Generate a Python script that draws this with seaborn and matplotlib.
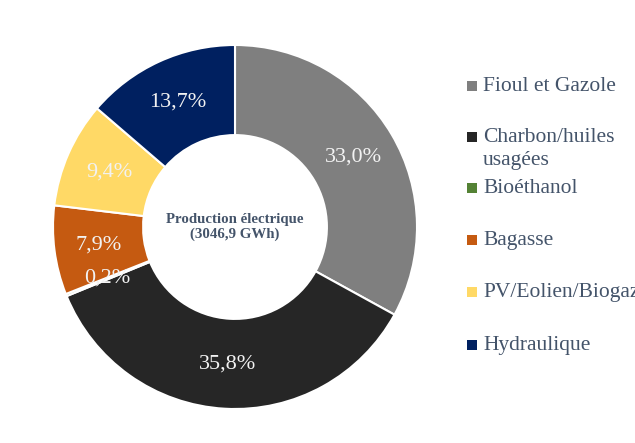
import matplotlib

matplotlib.use('Agg')
import matplotlib.pyplot as plt
import numpy as np
import seaborn as sns
from matplotlib.patches import Rectangle

# Production électrique par source (%)
sources = ['Fioul et Gazole', 'Charbon/huiles\nusagées', 'Bioéthanol', 'Bagasse',
           'PV/Eolien/Biogaz', 'Hydraulique']
shares = [33.0, 35.8, 0.2, 7.9, 9.4, 13.7]
colors = ['#7F7F7F', '#262626', '#548235', '#C55A11', '#FFD966', '#002060']
center_title = 'Production électrique\n(3046,9 GWh)'

sns.set_theme(style='white')
plt.rcParams['font.family'] = ['Liberation Serif', 'DejaVu Serif']
text_color = '#44546A'

fig = plt.figure(figsize=(6.35, 4.43), dpi=100)
W, H = 635, 443
cx, cy, r = 235, 443 - 227, 182
ax = fig.add_axes([(cx - r) / W, (cy - r) / H, 2 * r / W, 2 * r / H])

wedges, _ = ax.pie(
    shares,
    colors=colors,
    startangle=90,
    counterclock=False,
    radius=1.0,
    wedgeprops=dict(width=0.495, edgecolor='white', linewidth=1.5),
)
ax.set_xlim(-1, 1)
ax.set_ylim(-1, 1)

# percentage labels in the middle of the ring
for w, val in zip(wedges, shares):
    ang = np.deg2rad((w.theta1 + w.theta2) / 2)
    ax.text(0.755 * np.cos(ang), 0.755 * np.sin(ang), f'{val:.1f}%'.replace('.', ','),
            ha='center', va='center', fontsize=16, color='#F2F2F2')

ax.text(0, 0.0, center_title, ha='center', va='center', fontsize=10.7,
        fontweight='bold', color=text_color, linespacing=1.1)

# legend, Excel-like spacing
legend_y = [86, 137, 188, 240, 292, 345]
for lab, col, y in zip(sources, colors, legend_y):
    fig.patches.append(Rectangle((467 / W, (443 - y - 5) / H), 10 / W, 10 / H,
                                 facecolor=col, edgecolor='none',
                                 transform=fig.transFigure, figure=fig))
    fig.text(483 / W, (443 - y + 9) / H, lab, ha='left', va='top', fontsize=15.5,
             color=text_color, linespacing=1.25)

fig.savefig('out.png', dpi=100)
